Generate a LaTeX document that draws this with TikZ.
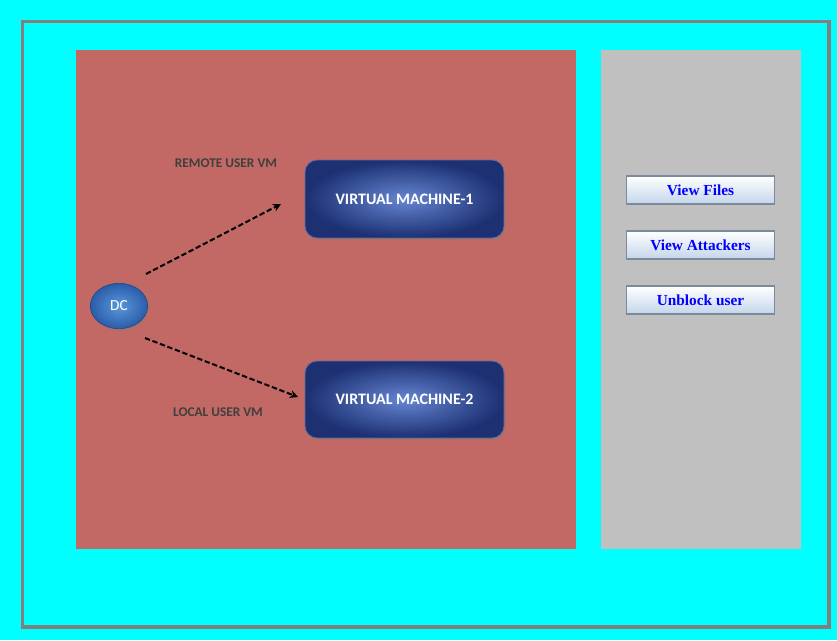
\documentclass[tikz,border=0pt]{standalone}
\usepackage{fontspec}
\setmainfont{Carlito}
\newfontfamily\btnfont{Liberation Serif}
\usetikzlibrary{arrows.meta,shadows,shapes.geometric}

\definecolor{bgcyan}{HTML}{00FFFF}
\definecolor{framegray}{HTML}{808080}
\definecolor{panelred}{HTML}{C26865}
\definecolor{panelgray}{HTML}{C0C0C0}
\definecolor{vmin}{HTML}{6686D2}
\definecolor{vmout}{HTML}{1C3072}
\definecolor{dcin}{HTML}{5A97DD}
\definecolor{dcout}{HTML}{2B5DA8}
\definecolor{btnedge}{HTML}{7B8B9C}
\definecolor{btnlow}{HTML}{C4D5EA}
\definecolor{labelgray}{HTML}{3F3F3F}

\begin{document}
\begin{tikzpicture}[x=0.75pt,y=-0.75pt,
    vmbox/.style={rounded corners=9pt,draw=vmout!70!white,line width=0.6pt,
      inner color=vmin,outer color=vmout,
      drop shadow={shadow xshift=1pt,shadow yshift=-1.5pt,opacity=0.35}},
    vmtext/.style={text=white,font=\fontsize{12}{14}\selectfont\bfseries},
    dcnode/.style={ellipse,draw=dcout!80!black,line width=0.5pt,
      inner color=dcin,outer color=dcout,minimum width=43pt,minimum height=34pt,
      text=white,font=\fontsize{11.5}{13}\selectfont,
      drop shadow={shadow xshift=1pt,shadow yshift=-1.5pt,opacity=0.35}},
    userlabel/.style={text=labelgray,font=\fontsize{10}{12}\selectfont\bfseries},
    link/.style={dash pattern=on 4pt off 2pt,line width=1.5pt,-{Stealth[open,length=6pt,width=6pt,line width=1.2pt]}},
    btn/.style={draw=btnedge,line width=0.8pt,top color=white,bottom color=btnlow,
      minimum width=111pt,minimum height=21pt,inner sep=0pt,
      text=blue,font=\btnfont\fontsize{11.5}{13}\selectfont\bfseries}]
  % Background and frame
  \fill [bgcyan] (0,0) rectangle (837,640);
  \draw [framegray,line width=2.3pt] (22.5,21.5) rectangle (829,627);
  % Panels
  \fill [panelred] (76,50) rectangle (576,549);
  \fill [panelgray] (601,50) rectangle (801,549);
  % Virtual machines
  \draw [vmbox] (305,160) rectangle (504,238);
  \node [vmtext] (vm1) at (404.5,199) {VIRTUAL MACHINE-1};
  \draw [vmbox] (305,361) rectangle (504,438);
  \node [vmtext] (vm2) at (404.5,399.5) {VIRTUAL MACHINE-2};
  % DC
  \node [dcnode] (dc) at (119,306) {DC};
  % Links
  \coordinate (remotestart) at (146,274);
  \coordinate (remoteend) at (281,204);
  \coordinate (localstart) at (145,338);
  \coordinate (localend) at (298,397);
  \draw [link] (remotestart) -- (remoteend);
  \draw [link] (localstart) -- (localend);
  \node [userlabel] (remote) at (226,163) {REMOTE USER VM};
  \node [userlabel] (local) at (218,412) {LOCAL USER VM};
  % Buttons
  \node [btn] (files) at (700.5,190) {View Files};
  \node [btn] (attackers) at (700.5,245) {View Attackers};
  \node [btn] (unblock) at (700.5,300) {Unblock user};
\end{tikzpicture}
\end{document}
